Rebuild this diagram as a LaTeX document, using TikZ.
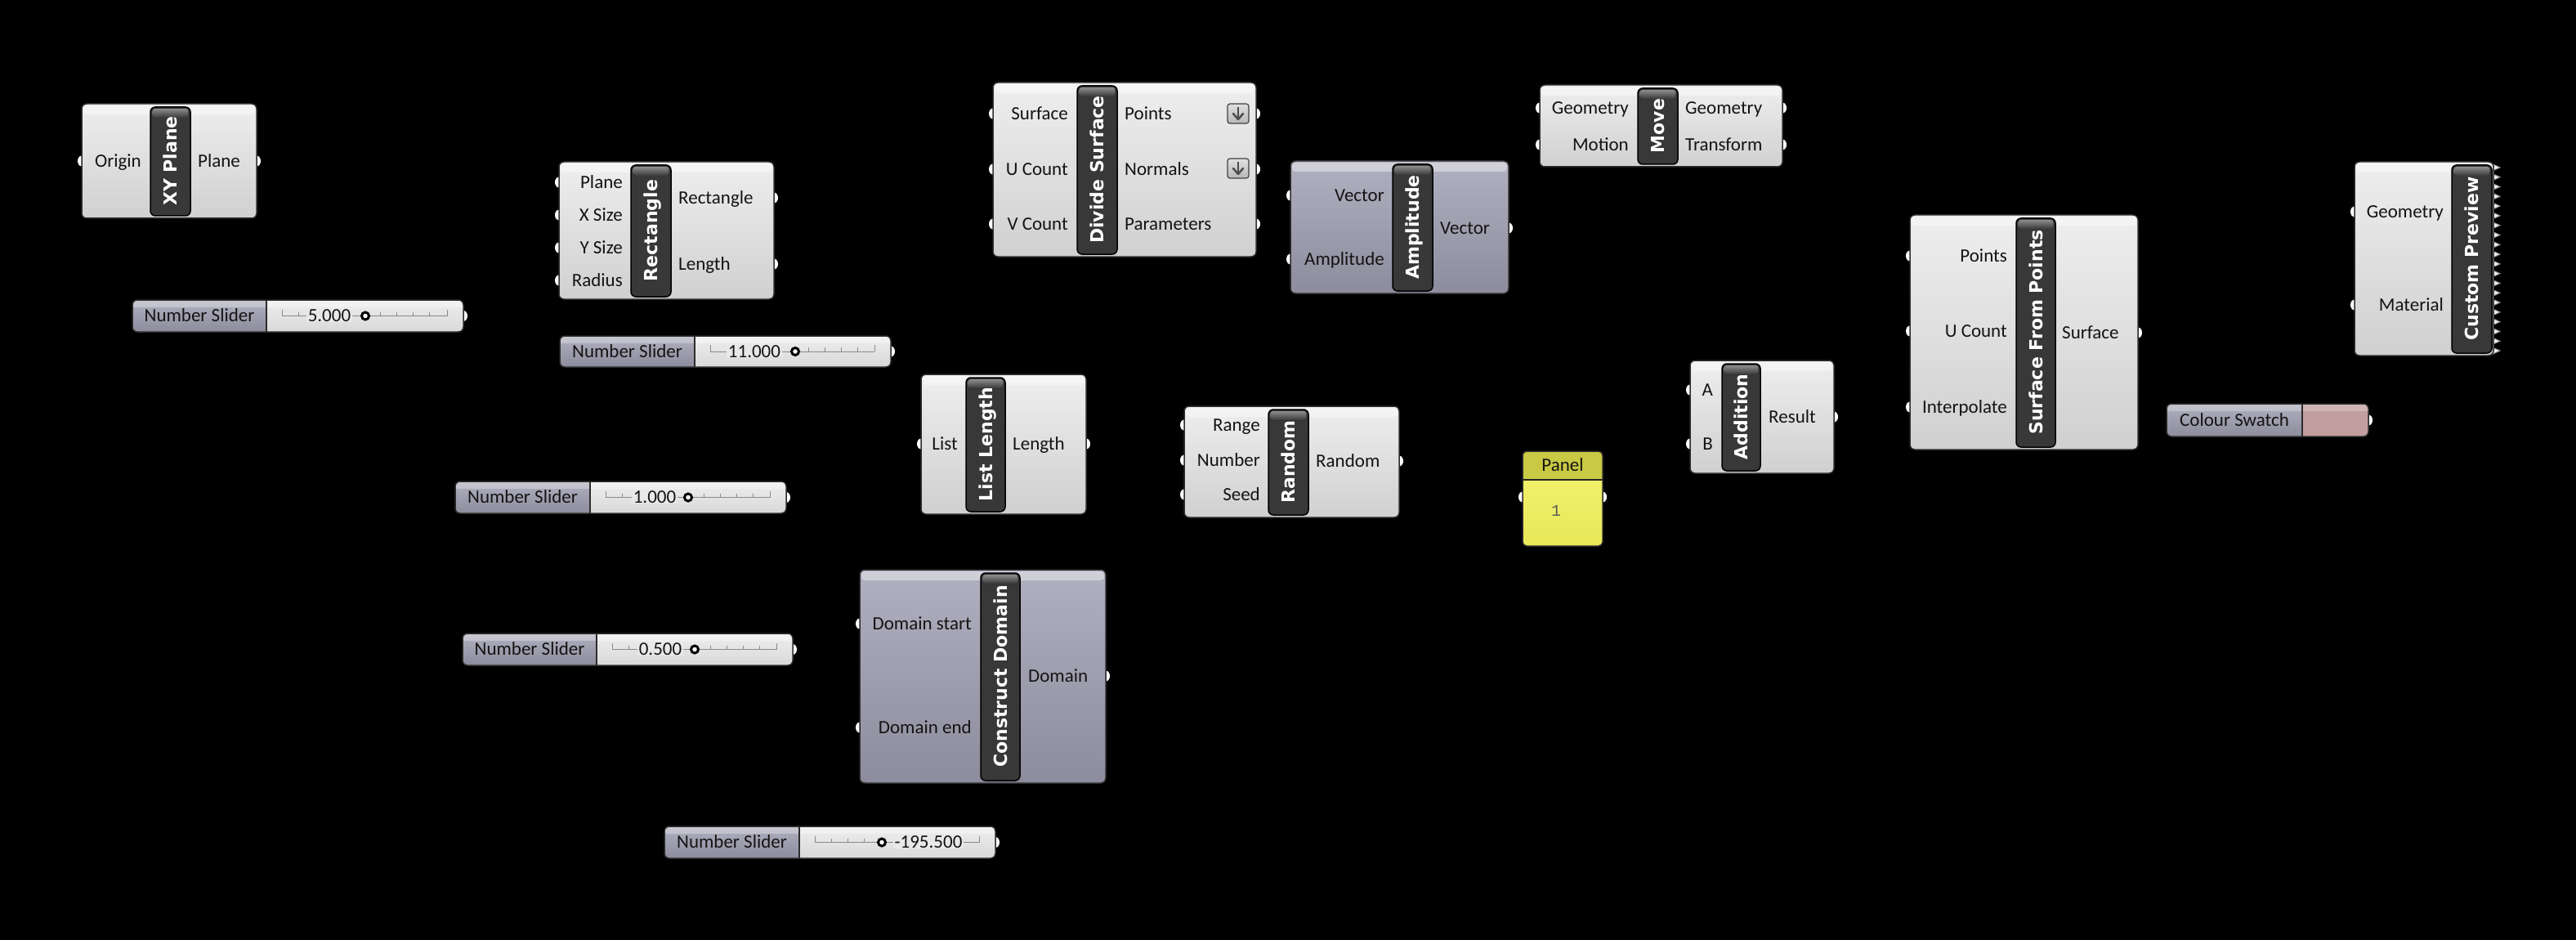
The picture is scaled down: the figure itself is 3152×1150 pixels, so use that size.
\documentclass[tikz,border=0pt]{standalone}
\usepackage{fontspec}
\setmainfont{Carlito}
\newfontfamily\stripfont{DejaVu Sans}
\newfontfamily\gmonofont{Liberation Mono}
\definecolor{bodyT}{HTML}{EEEEEE}
\definecolor{bodyB}{HTML}{D0D0D0}
\definecolor{purT}{HTML}{B0B0C0}
\definecolor{purB}{HTML}{8C8C9C}
\definecolor{stripC}{HTML}{383838}
\definecolor{edgeC}{HTML}{2C2C2C}
\definecolor{panHead}{HTML}{C9C944}
\definecolor{panT}{HTML}{F4F472}
\definecolor{panB}{HTML}{E8E85A}
\definecolor{swatchC}{HTML}{C29E9E}
\definecolor{trackC}{HTML}{8A8A8A}
\tikzset{
 gbody/.style={draw=edgeC, line width=1.5pt, rounded corners=6pt, top color=bodyT, bottom color=bodyB, inner sep=0pt, outer sep=0pt, anchor=north west},
 pbody/.style={gbody, top color=purT, bottom color=purB},
 stripbox/.style={draw=black, line width=1.5pt, rounded corners=6pt, fill=stripC, inner sep=0pt, outer sep=0pt, anchor=north west},
 striptext/.style={rotate=90, text=white, font=\stripfont\bfseries\fontsize{22}{22}\selectfont, inner sep=0pt, text height=16pt, text depth=0pt},
 lbl/.style={font=\fontsize{23}{23}\selectfont, text=black!92, inner sep=0pt, text height=14.8pt, text depth=0pt},
 frame/.style={draw=edgeC, line width=1.5pt, rounded corners=6pt, inner sep=0pt, outer sep=0pt, anchor=north west},
}
\newcommand\gport[2]{\fill[white] ({#1},{#2}) ellipse [x radius=5pt, y radius=6.5pt];}
\newcommand\ghin[4]{\node[lbl, anchor=east] (#1) at (#2,#3) {#4};}
\newcommand\ghout[4]{\node[lbl, anchor=west] (#1) at (#2,#3) {#4};}
\newcommand\gcomp[9]{%
 \node[#2, minimum width={#5-#3}, minimum height={#6-#4}] (#1) at (#3,#4) {};
 \fill[white, opacity=.4, rounded corners=4pt] ({#3+2},{#4+2}) rectangle ({#5-2},{#4+13});
 \node[stripbox, minimum width={#8-#7}, minimum height={#6-#4-7}] (#1s) at (#7,{#4+4}) {};
 \fill[top color=black!45, bottom color=stripC, rounded corners=3pt] ({#7+2.5},{#4+6}) rectangle ({#8-2.5},{#4+17});
 \node[striptext] (#1t) at ({(#7+#8)/2},{(#4+#6)/2}) {#9};
}
\newcommand\gslider[9]{%
 \gport{#4}{(#3+#5)/2}
 \fill[top color=bodyT, bottom color=black!15, rounded corners=6pt] (#2,#3) rectangle (#4,#5);
 \begin{scope}
  \clip[rounded corners=6pt] (#2,#3) rectangle (#4,#5);
  \fill[top color=purT, bottom color=purB] (#2,#3) rectangle (#6,#5);
  \fill[white, opacity=.3] (#2,#3) rectangle (#4,{#3+9});
 \end{scope}
 \draw[trackC, line width=1pt] ({#6+19},{(#3+#5)/2}) -- ({#4-20},{(#3+#5)/2});
 \foreach \k in {1,...,9} \draw[trackC, line width=1pt] ({#6+19+20*\k},{(#3+#5)/2}) -- ++(0,-5);
 \draw[trackC, line width=1pt] ({#6+19},{(#3+#5)/2}) -- ++(0,-8);
 \draw[trackC, line width=1pt] ({#4-20},{(#3+#5)/2}) -- ++(0,-8);
 \node[lbl, fill=black!9, inner xsep=2pt] (#1v) at ({#8},{(#3+#5)/2}) {#7};
 \draw[line width=3pt, fill=white] ({#9},{(#3+#5)/2}) circle [radius=4.5pt];
 \node[frame, minimum width={#4-#2}, minimum height={#5-#3}] (#1) at (#2,#3) {};
 \draw[edgeC, line width=1.5pt] (#6,#3) -- (#6,#5);
 \node[lbl] (#1l) at ({(#2+#6)/2},{(#3+#5)/2}) {Number Slider};
}
\newcommand\gicon[3]{%
 \node[draw=black!75, line width=1.2pt, rounded corners=3pt, top color=black!12, bottom color=black!28, minimum width=26pt, minimum height=24pt, inner sep=0pt] (#1) at (#2,#3) {};
 \draw[black!70, line width=2.5pt] (#2,{#3-8}) -- (#2,{#3+5});
 \draw[black!70, line width=2.5pt, line cap=round, line join=round] ({#2-6},{#3}) -- (#2,{#3+7}) -- ({#2+6},{#3});
}
\begin{document}
\begin{tikzpicture}[x=1pt,y=-1pt]
\useasboundingbox (0,0) rectangle (3152,1150);
\fill[black] (0,0) rectangle (3152,1150);

% XY Plane
\gport{100}{197}\gport{314}{197}
\gcomp{xy}{gbody}{100}{127}{314}{267}{184}{233}{XY Plane}
\ghin{xyO}{173}{197}{Origin}
\ghout{xyP}{242}{197}{Plane}

% Rectangle
\gport{684}{223}\gport{684}{263}\gport{684}{303}\gport{684}{343}
\gport{947}{242}\gport{947}{323}
\gcomp{rec}{gbody}{684}{198}{947}{366}{772}{821}{Rectangle}
\ghin{recP}{762}{223}{Plane}
\ghin{recX}{762}{263}{X Size}
\ghin{recY}{762}{303}{Y Size}
\ghin{recR}{762}{343}{Radius}
\ghout{recO}{830}{242}{Rectangle}
\ghout{recL}{830}{323}{Length}

% Divide Surface
\gport{1215}{139}\gport{1215}{207}\gport{1215}{274}
\gport{1537}{139}\gport{1537}{207}\gport{1537}{274}
\gcomp{ds}{gbody}{1215}{101}{1537}{314}{1318}{1367}{Divide Surface}
\ghin{dsS}{1307}{139}{Surface}
\ghin{dsU}{1307}{207}{U Count}
\ghin{dsV}{1307}{274}{V Count}
\ghout{dsP}{1376}{139}{Points}
\ghout{dsN}{1376}{207}{Normals}
\ghout{dsR}{1376}{274}{Parameters}
\gicon{dsI1}{1515}{139}
\gicon{dsI2}{1515}{206}

% Amplitude
\gport{1579}{239}\gport{1579}{317}\gport{1846}{279}
\gcomp{amp}{pbody}{1579}{197}{1846}{359}{1704}{1753}{Amplitude}
\ghin{ampV}{1694}{239}{Vector}
\ghin{ampA}{1694}{317}{Amplitude}
\ghout{ampO}{1762}{279}{Vector}

% Move
\gport{1884}{132}\gport{1884}{177}\gport{2181}{132}\gport{2181}{177}
\gcomp{mv}{gbody}{1884}{104}{2181}{204}{2004}{2053}{Move}
\ghin{mvG}{1993}{132}{Geometry}
\ghin{mvM}{1993}{177}{Motion}
\ghout{mvO}{2062}{132}{Geometry}
\ghout{mvT}{2062}{177}{Transform}

% Surface From Points
\gport{2337}{313}\gport{2337}{405}\gport{2337}{498}\gport{2616}{407}
\gcomp{sfp}{gbody}{2337}{263}{2616}{550}{2467}{2515}{Surface From Points}
\ghin{sfpP}{2456}{313}{Points}
\ghin{sfpU}{2456}{405}{U Count}
\ghin{sfpI}{2456}{498}{Interpolate}
\ghout{sfpS}{2523}{407}{Surface}

% Custom Preview
\gport{2881}{259}\gport{2881}{373}
\filldraw[fill=black!6, draw=black!45, line width=1pt, line join=miter] (3046,199) \foreach \i in {1,...,20} { -- ++(13,5.9) -- ++(-13,5.9) } -- cycle;
\gcomp{cp}{gbody}{2881}{198}{3051}{435}{3000}{3049}{Custom Preview}
\ghin{cpG}{2990}{259}{Geometry}
\ghin{cpM}{2990}{373}{Material}

% Addition
\gport{2068}{477}\gport{2068}{543}\gport{2244}{510}
\gcomp{add}{gbody}{2068}{441}{2244}{579}{2107}{2154}{Addition}
\ghin{addA}{2096}{477}{A}
\ghin{addB}{2096}{543}{B}
\ghout{addR}{2164}{510}{Result}

% Random
\gport{1449}{520}\gport{1449}{563}\gport{1449}{605}\gport{1712}{564}
\gcomp{rnd}{gbody}{1449}{497}{1712}{633}{1552}{1601}{Random}
\ghin{rndR}{1542}{520}{Range}
\ghin{rndN}{1542}{563}{Number}
\ghin{rndS}{1542}{605}{Seed}
\ghout{rndO}{1610}{564}{Random}

% List Length
\gport{1127}{543}\gport{1329}{543}
\gcomp{ll}{gbody}{1127}{458}{1329}{629}{1182}{1230}{List Length}
\ghin{llL}{1172}{543}{List}
\ghout{llO}{1239}{543}{Length}

% Construct Domain
\gport{1052}{763}\gport{1052}{890}\gport{1353}{827}
\gcomp{cd}{pbody}{1052}{697}{1353}{958}{1200}{1248}{Construct Domain}
\ghin{cdS}{1189}{763}{Domain start}
\ghin{cdE}{1189}{890}{Domain end}
\ghout{cdO}{1258}{827}{Domain}

% Panel
\gport{1863}{608}\gport{1961}{608}
\fill[top color=panT, bottom color=panB, rounded corners=5pt] (1863,552) rectangle (1961,668);
\begin{scope}
 \clip[rounded corners=5pt] (1863,552) rectangle (1961,668);
 \fill[panHead] (1863,552) rectangle (1961,587);
\end{scope}
\draw[black!85, line width=1.8pt] (1863,587) -- (1961,587);
\node[frame, rounded corners=5pt, minimum width=98pt, minimum height=116pt] (panel) at (1863,552) {};
\node[lbl] (panelT) at (1912,569) {Panel};
\node[font=\gmonofont\fontsize{20}{20}\selectfont, text=black!65, inner sep=0pt] (panelV) at (1904,625) {1};

% Colour Swatch
\gport{2898}{514}
\fill[swatchC, rounded corners=6pt] (2651,494) rectangle (2898,534);
\begin{scope}
 \clip[rounded corners=6pt] (2651,494) rectangle (2898,534);
 \fill[top color=purT, bottom color=purB] (2651,494) rectangle (2817,534);
 \fill[white, opacity=.25] (2651,494) rectangle (2898,503);
\end{scope}
\node[frame, minimum width=247pt, minimum height=40pt] (sw) at (2651,494) {};
\draw[edgeC, line width=1.5pt] (2817,494) -- (2817,534);
\node[lbl] (swL) at (2734,514) {Colour Swatch};

% Sliders
\gslider{sa}{162}{367}{567}{406}{326}{5.000}{403}{447}
\gslider{sb}{685}{411}{1090}{449}{850}{11.000}{923}{973}
\gslider{sc}{557}{589}{962}{628}{722}{1.000}{801}{842}
\gslider{sd}{566}{775}{970}{814}{730}{0.500}{808}{850}
\gslider{se}{813}{1011}{1218}{1050}{978}{-195.500}{1136}{1079}
\end{tikzpicture}
\end{document}
